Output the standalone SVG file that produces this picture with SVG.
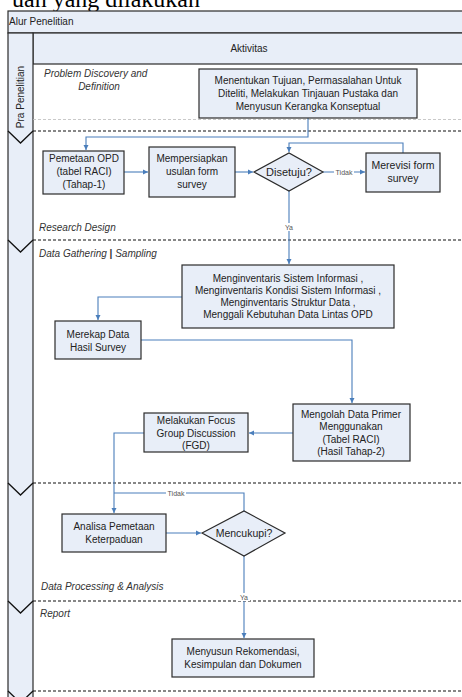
<svg xmlns="http://www.w3.org/2000/svg" width="462" height="697" viewBox="0 0 462 697">
<defs>
<marker id="ah" markerWidth="6" markerHeight="6" refX="5" refY="3" orient="auto" markerUnits="userSpaceOnUse">
<path d="M0,0.5 L5,3 L0,5.5 Z" fill="#4a7ebb"/>
</marker>
</defs>
<style>
.box{fill:#e8eef8;stroke:#2b2b2b;stroke-width:1.2}
.t{font-family:"Liberation Sans",Arial,sans-serif;font-size:10px;fill:#222;text-anchor:middle}
.it{font-family:"Liberation Sans",Arial,sans-serif;font-size:10px;font-style:italic;fill:#333}
.lbl{font-family:"Liberation Sans",Arial,sans-serif;font-size:7px;fill:#555;text-anchor:middle}
.dash{stroke:#111;stroke-width:1.2;stroke-dasharray:3 2;fill:none}
.con{stroke:#4a7ebb;stroke-width:1.1;fill:none}
.arr{stroke:#4a7ebb;stroke-width:1.1;fill:none;marker-end:url(#ah)}
</style>
<rect width="462" height="697" fill="#fff"/>
<text x="200" y="7" font-family="Liberation Serif,Times New Roman,serif" font-size="24" text-anchor="end" fill="#000">uan yang dilakukan</text>

<g id="frame">
<rect x="8" y="11" width="470" height="22" fill="#e8eef8" stroke="#2b2b2b" stroke-width="1.2"/>
<text x="9" y="25" class="t" style="text-anchor:start">Alur Penelitian</text>
<rect x="33" y="33" width="445" height="31" fill="#e8eef8" stroke="#2b2b2b" stroke-width="1.2"/>
<text x="249" y="52" class="t">Aktivitas</text>
<rect x="8" y="33" width="25" height="680" fill="#e8eef8" stroke="#2b2b2b" stroke-width="1.2"/>
<text transform="translate(24,97) rotate(-90)" class="t">Pra Penelitian</text>
<polyline points="8,131 20.5,143 33,131" fill="none" stroke="#111" stroke-width="1.3"/>
<polyline points="8,240 20.5,252 33,240" fill="none" stroke="#111" stroke-width="1.3"/>
<polyline points="8,483 20.5,495 33,483" fill="none" stroke="#111" stroke-width="1.3"/>
<polyline points="8,601 20.5,613 33,601" fill="none" stroke="#111" stroke-width="1.3"/>
<polyline points="8,691 20.5,703 33,691" fill="none" stroke="#111" stroke-width="1.3"/>
<line x1="33" y1="119.5" x2="462" y2="119.5" stroke="#bbb" stroke-width="0.8" stroke-dasharray="3 2"/>
<line x1="33" y1="131" x2="462" y2="131" class="dash"/>
<line x1="33" y1="240" x2="462" y2="240" class="dash"/>
<line x1="33" y1="483" x2="462" y2="483" class="dash"/>
<line x1="33" y1="601" x2="462" y2="601" class="dash"/>
<line x1="33" y1="691" x2="462" y2="691" class="dash"/>
<text x="44" y="77" class="it">Problem Discovery and</text>
<text x="99" y="90" class="it" style="text-anchor:middle">Definition</text>
<text x="39" y="231" class="it">Research Design</text>
<text x="39" y="257" class="it">Data Gathering <tspan font-weight="bold" font-style="normal">|</tspan> Sampling</text>
<text x="41" y="590" class="it">Data Processing &amp; Analysis</text>
<text x="40" y="617" class="it">Report</text>
</g>

<g id="connectors">
<polyline points="308,118 308,137 86,137 86,150" class="arr"/>
<line x1="124" y1="172" x2="148" y2="172" class="arr"/>
<line x1="235" y1="172" x2="253" y2="172" class="arr"/>
<line x1="323" y1="172" x2="365" y2="172" class="arr"/>
<polyline points="403,153 403,143 289,143 289,152" class="arr"/>
<line x1="289" y1="191" x2="289" y2="264" class="arr"/>
<polyline points="182,297 98,297 98,320" class="arr"/>
<polyline points="141,340 352,340 352,403" class="arr"/>
<line x1="293" y1="433" x2="249" y2="433" class="arr"/>
<polyline points="144,433 114,433 114,513" class="arr"/>
<polyline points="244,511 244,493 114,493" class="con"/>
<line x1="166" y1="533" x2="201" y2="533" class="arr"/>
<line x1="244" y1="556" x2="244" y2="638" class="arr"/>
<rect x="334" y="168" width="20" height="8" fill="#fff"/>
<text x="344" y="175" class="lbl">Tidak</text>
<rect x="283" y="223" width="12" height="8" fill="#fff"/>
<text x="289" y="230" class="lbl">Ya</text>
<rect x="166" y="489" width="20" height="8" fill="#fff"/>
<text x="176" y="496" class="lbl">Tidak</text>
<rect x="238" y="593" width="12" height="8" fill="#fff"/>
<text x="244" y="600" class="lbl">Ya</text>
</g>

<g id="n1">
<rect x="199" y="69" width="218" height="49" class="box"/>
<text class="t"><tspan x="308" y="84">Menentukan Tujuan, Permasalahan Untuk</tspan><tspan x="308" y="97">Diteliti, Melakukan Tinjauan Pustaka dan</tspan><tspan x="308" y="110">Menyusun Kerangka Konseptual</tspan></text>
</g>
<g id="n2">
<rect x="43" y="151" width="81" height="43" class="box"/>
<text class="t"><tspan x="84" y="162">Pemetaan OPD</tspan><tspan x="84" y="175">(tabel RACI)</tspan><tspan x="84" y="188">(Tahap-1)</tspan></text>
</g>
<g id="n3">
<rect x="149" y="147" width="86" height="50" class="box"/>
<text class="t"><tspan x="192" y="162">Mempersiapkan</tspan><tspan x="192" y="175">usulan form</tspan><tspan x="192" y="188">survey</tspan></text>
</g>
<g id="n4">
<polygon points="254,172 289,153 323,172 289,191" class="box"/>
<text x="289" y="176" class="t" style="font-size:11px">Disetuju?</text>
</g>
<g id="n5">
<rect x="366" y="153" width="74" height="39" class="box"/>
<text class="t" style="font-size:10.5px"><tspan x="403" y="169">Merevisi form</tspan><tspan x="403" y="182">survey</tspan></text>
</g>
<g id="n6">
<rect x="182" y="265" width="212" height="63" class="box"/>
<text class="t"><tspan x="288" y="282">Menginventaris Sistem Informasi ,</tspan><tspan x="288" y="294">Menginventaris Kondisi Sistem Informasi ,</tspan><tspan x="288" y="306">Menginventaris Struktur Data ,</tspan><tspan x="288" y="318">Menggali Kebutuhan Data Lintas OPD</tspan></text>
</g>
<g id="n7">
<rect x="55" y="321" width="86" height="38" class="box"/>
<text class="t"><tspan x="98" y="338">Merekap Data</tspan><tspan x="98" y="351">Hasil Survey</tspan></text>
</g>
<g id="n8">
<rect x="293" y="404" width="117" height="57" class="box"/>
<text class="t"><tspan x="351" y="418">Mengolah Data Primer</tspan><tspan x="351" y="430">Menggunakan</tspan><tspan x="351" y="443">(Tabel RACI)</tspan><tspan x="351" y="455">(Hasil Tahap-2)</tspan></text>
</g>
<g id="n9">
<rect x="144" y="413" width="104" height="39" class="box"/>
<text class="t"><tspan x="196" y="424">Melakukan Focus</tspan><tspan x="196" y="437">Group Discussion</tspan><tspan x="196" y="449">(FGD)</tspan></text>
</g>
<g id="n10">
<rect x="62" y="514" width="104" height="38" class="box"/>
<text class="t"><tspan x="114" y="530">Analisa Pemetaan</tspan><tspan x="114" y="543">Keterpaduan</tspan></text>
</g>
<g id="n11">
<polygon points="202,533 244,511 285,533 244,556" class="box"/>
<text x="244" y="537" class="t" style="font-size:10.5px">Mencukupi?</text>
</g>
<g id="n12">
<rect x="172" y="639" width="142" height="38" class="box"/>
<text class="t"><tspan x="243" y="655">Menyusun Rekomendasi,</tspan><tspan x="243" y="668">Kesimpulan dan Dokumen</tspan></text>
</g>
</svg>
